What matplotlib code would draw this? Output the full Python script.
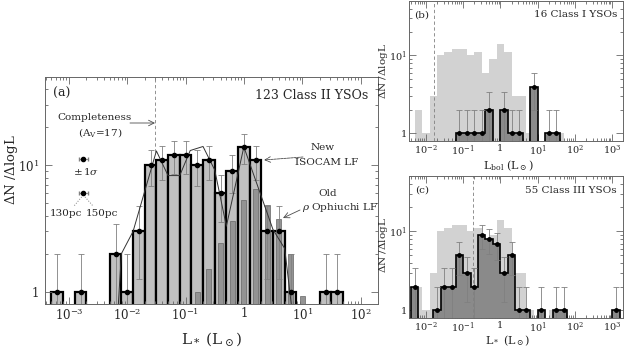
import numpy as np
import matplotlib.pyplot as plt
from matplotlib.ticker import FixedLocator, FuncFormatter, NullFormatter

plt.rcParams['font.family'] = ['DejaVu Serif']
plt.rcParams['mathtext.fontset'] = 'dejavuserif'

# ---- data (log10 L bin centres, counts) ----
# Class II, 0.2 dex bins
logL_II = [-3.2, -2.8, -2.2, -2.0, -1.8, -1.6, -1.4, -1.2, -1.0, -0.8, -0.6,
           -0.4, -0.2, 0.0, 0.2, 0.4, 0.6, 0.8, 1.4, 1.6]
N_II = [1, 1, 2, 1, 3, 10, 11, 12, 12, 10, 11, 6, 9, 14, 11, 3, 3, 1, 1, 1]

# old rho Ophiuchi LF (narrow dark bars)
logL_old = [-0.8, -0.6, -0.4, -0.2, 0.0, 0.2, 0.4, 0.6, 0.8, 1.0]
N_old = [1.0, 1.5, 2.45, 3.6, 5.3, 6.5, 4.9, 3.75, 2.0, 0.92]

# new ISOCAM LF (thin line)
logL_iso = [-2.16, -2.1, -1.9, -1.5, -1.3, -1.1, -0.92, -0.7, -0.5, -0.3, 0.0, 0.5, 0.7, 0.82]
N_iso = [0.7, 2.0, 3.0, 13.0, 8.3, 8.3, 13.1, 14.1, 9.2, 3.3, 14.0, 3.1, 2.2, 0.75]

# Class I
logL_I = [-1.1, -0.9, -0.7, -0.5, -0.3, 0.1, 0.3, 0.5, 0.9, 1.3, 1.5]
N_I = [1, 1, 1, 1, 2, 2, 1, 1, 4, 1, 1]

# Class III
logL_III = [-2.3, -1.7, -1.5, -1.3, -1.1, -0.9, -0.7, -0.5, -0.3, -0.1, 0.1,
            0.3, 0.5, 0.7, 1.1, 1.5, 1.7, 3.1]
N_III = [2, 1, 2, 2, 5, 3, 2, 9, 8, 7, 3, 5, 1, 1, 1, 1, 1, 1]

completeness_a = 0.030
completeness_b = 0.017
completeness_c = 0.19

W, H = 625, 348
fig = plt.figure(figsize=(W / 100, H / 100), dpi=100)

def add_axes(x0, y0, x1, y1):
    return fig.add_axes([x0 / W, 1 - y1 / H, (x1 - x0) / W, (y1 - y0) / H])

boxA = (45, 77, 378, 304)
boxB = (409, 1, 623, 141)
boxC = (409, 176, 623, 318)
axA = add_axes(*boxA)
axB = add_axes(*boxB)
axC = add_axes(*boxC)

def frac(box, xp, yp):
    return ((xp - box[0]) / (box[2] - box[0]), (box[3] - yp) / (box[3] - box[1]))

TXT = '0.15'
ERR = '0.5'

def dec_fmt(v, pos):
    e = int(round(np.log10(v)))
    return '1' if e == 0 else r'$10^{%d}$' % e

def style(ax, xlo, xhi, fs, xpad, ypad):
    ax.set_xscale('log')
    ax.set_yscale('log')
    ax.set_xlim(10 ** xlo, 10 ** xhi)
    ax.set_ylim(0.8, 50)
    ax.xaxis.set_major_locator(FixedLocator([10.0 ** k for k in range(-4, 5)]))
    ax.xaxis.set_minor_locator(FixedLocator([m * 10.0 ** k for k in range(-4, 4) for m in range(2, 10)]))
    ax.yaxis.set_major_locator(FixedLocator([1, 10]))
    ax.yaxis.set_minor_locator(FixedLocator([2, 3, 4, 5, 6, 7, 8, 9, 20, 30, 40, 50]))
    ax.xaxis.set_major_formatter(FuncFormatter(dec_fmt))
    ax.yaxis.set_major_formatter(FuncFormatter(dec_fmt))
    ax.xaxis.set_minor_formatter(NullFormatter())
    ax.yaxis.set_minor_formatter(NullFormatter())
    ax.tick_params(which='both', direction='in', top=True, right=True,
                   colors='0.4', labelcolor=TXT, labelsize=fs, width=0.6)
    ax.tick_params(which='major', length=5)
    ax.tick_params(which='minor', length=2.5)
    ax.tick_params(axis='x', which='major', pad=xpad)
    ax.tick_params(axis='y', which='major', pad=ypad)
    for s in ax.spines.values():
        s.set_color('0.4')
        s.set_linewidth(0.7)

def edges(c, half=0.1):
    c = np.asarray(c, float)
    return 10 ** (c - half), 10 ** (c + half)

def errbars(ax, logc, n):
    n = np.asarray(n, float)
    lo = np.minimum(np.sqrt(n), n - 0.5)
    ax.errorbar(10 ** np.asarray(logc), n, yerr=[lo, np.sqrt(n)], fmt='none',
                ecolor=ERR, elinewidth=0.6, capsize=2.2, capthick=0.6, zorder=4)

def outline(ax, logc, n):
    # step outline of contiguous groups of bins
    groups = []
    for c, v in zip(logc, n):
        if groups and abs(c - groups[-1][-1][0] - 0.2) < 1e-6:
            groups[-1].append((c, v))
        else:
            groups.append([(c, v)])
    for g in groups:
        xs, ys = [], []
        l, r = edges(g[0][0])
        xs += [l]
        ys += [0.5]
        for c, v in g:
            l, r = edges(c)
            xs += [l, r]
            ys += [v, v]
        xs += [r]
        ys += [0.5]
        ax.plot(xs, ys, color='k', lw=1.2, zorder=3, solid_joinstyle='miter')

# ---------------- panel (a) ----------------
style(axA, -3.41, 2.30, 8.5, 2.5, 4)
l, r = edges(logL_II)
axA.bar(l, np.array(N_II) - 0.5, width=r - l, bottom=0.5, align='edge',
        color='#c0c0c0', edgecolor='k', linewidth=1.6, zorder=1)
l, r = edges(logL_old, 0.043)
axA.bar(l, np.array(N_old) - 0.5, width=r - l, bottom=0.5, align='edge',
        color='#939393', edgecolor='#666666', linewidth=0.5, zorder=2)
axA.plot(10 ** np.array(logL_iso), N_iso, color='0.2', lw=0.7, zorder=5)
errbars(axA, logL_II, N_II)
axA.plot(10 ** np.array(logL_II), N_II, 'o', color='k', ms=3, zorder=6)
axA.plot([completeness_a, completeness_a], [12.8, 50], ls=(0, (4, 3)), color='0.5', lw=0.6)

def atext(ax, box, xp, yp, s, fs, ha='center'):
    x, y = frac(box, xp, yp)
    ax.text(x, y, s, transform=ax.transAxes, fontsize=fs, ha=ha, va='center', color=TXT)

def aarrow(ax, box, p0, p1, ls='-'):
    ax.annotate('', xy=frac(box, *p1), xytext=frac(box, *p0), xycoords='axes fraction',
                textcoords='axes fraction',
                arrowprops=dict(arrowstyle='->', lw=0.6, color='0.3', linestyle=ls,
                                shrinkA=0, shrinkB=0))

atext(axA, boxA, 62, 93, '(a)', 9)
atext(axA, boxA, 368, 95, '123 Class II YSOs', 9, ha='right')
atext(axA, boxA, 95, 117, 'Completeness', 7.5)
atext(axA, boxA, 100, 132, r'(A$_\mathrm{V}$=17)', 7.5)
aarrow(axA, boxA, (130, 123), (155, 123))
atext(axA, boxA, 86, 171, r'$\pm\,1\sigma$', 7.5)
atext(axA, boxA, 66, 213, '130pc', 7.5)
atext(axA, boxA, 102, 213, '150pc', 7.5)
for yp in (159.3, 192.7):
    x, y = frac(boxA, 83.3, yp)
    axA.errorbar(x, y, xerr=0.013, fmt='o', color='k', ms=3, ecolor=ERR,
                 elinewidth=0.6, capsize=1.5, transform=axA.transAxes)
for xe in (74, 93):
    x0, y0 = frac(boxA, 83.3, 195)
    x1, y1 = frac(boxA, xe, 206)
    axA.plot([x0, x1], [y0, y1], ls=':', color='0.5', lw=0.7, transform=axA.transAxes)
atext(axA, boxA, 323, 147, 'New', 7.5)
atext(axA, boxA, 327, 162, 'ISOCAM LF', 7.5)
aarrow(axA, boxA, (303, 157), (264, 160), ls=(0, (3, 1)))
atext(axA, boxA, 328, 193, 'Old', 7.5)
atext(axA, boxA, 340, 207, r'$\rho$ Ophiuchi LF', 7.5)
aarrow(axA, boxA, (300, 210), (283, 218))
axA.set_xlabel(r'L$_*$ (L$_\odot$)', fontsize=11, color=TXT, labelpad=5)
fig.text(11 / W, 1 - 170 / H, r'$\Delta$N /$\Delta$logL', rotation=90, fontsize=9.5,
         color=TXT, ha='center', va='center')

# ---------------- panels (b) and (c) ----------------
for ax, box, lc, nc, comp, tag, title, xl, ylab_y, xlab_top in (
        (axB, boxB, logL_I, N_I, completeness_b, '(b)', '16 Class I YSOs',
         r'L$_\mathrm{bol}$ (L$_\odot$)', 71, 158),
        (axC, boxC, logL_III, N_III, completeness_c, '(c)', '55 Class III YSOs',
         r'L$_*$ (L$_\odot$)', 245, 333)):
    style(ax, -2.45, 3.29, 7, 2, 1.5)
    l, r = edges(logL_II)
    ax.bar(l, np.array(N_II) - 0.5, width=r - l, bottom=0.5, align='edge',
           color='#d2d2d2', linewidth=0, zorder=1)
    l, r = edges(lc)
    ax.bar(l, np.array(nc) - 0.5, width=r - l, bottom=0.5, align='edge',
           color='#8a8a8a', linewidth=0, zorder=2)
    outline(ax, lc, nc)
    errbars(ax, lc, nc)
    ax.plot(10 ** np.array(lc), nc, 'o', color='k', ms=2.5, zorder=6)
    ax.axvline(comp, ls=(0, (4, 3)), color='0.5', lw=0.6, zorder=2.5)
    atext(ax, box, 422, box[1] + 14, tag, 7.5)
    atext(ax, box, 617, box[1] + 14, title, 7.5, ha='right')
    ax.set_xlabel(xl, fontsize=8, color=TXT)
    ax.xaxis.set_label_coords((508 - box[0]) / (box[2] - box[0]),
                              (box[3] - xlab_top) / (box[3] - box[1]))
    fig.text(384 / W, 1 - ylab_y / H, r'$\Delta$N /$\Delta$logL', rotation=90,
             fontsize=7.5, color=TXT, ha='center', va='center')

fig.savefig('out.png', dpi=100)
